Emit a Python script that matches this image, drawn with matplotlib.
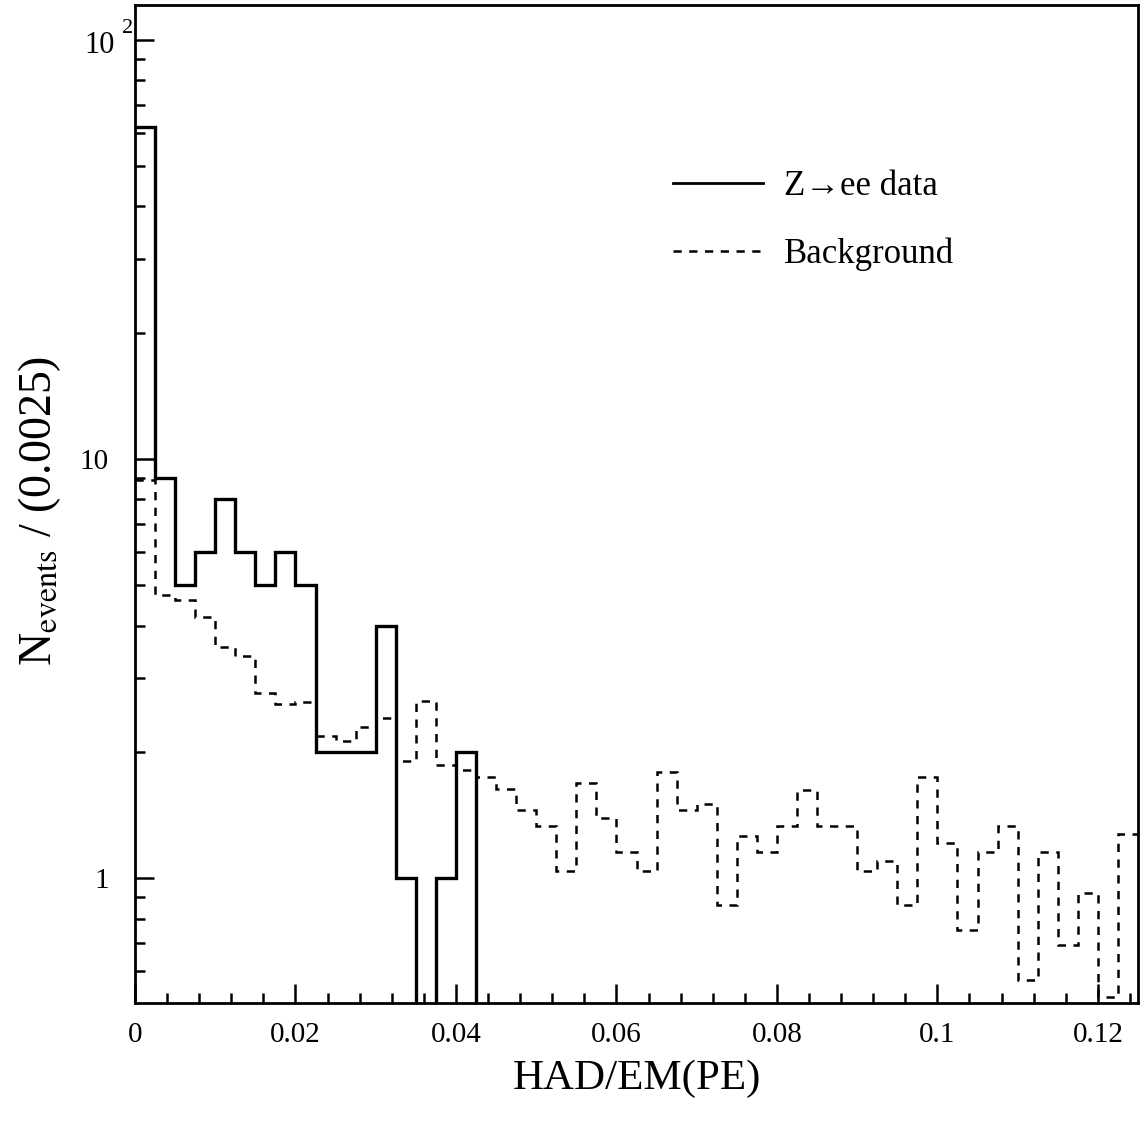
import numpy as np
import matplotlib
matplotlib.use("Agg")
import matplotlib.pyplot as plt
from matplotlib.lines import Line2D
from matplotlib.ticker import FixedLocator, LogLocator, NullFormatter, MultipleLocator, FixedFormatter

plt.rcParams['font.family'] = ['Liberation Serif', 'DejaVu Serif']
plt.rcParams['mathtext.fontset'] = 'stix'

# ---- data ----
bin_width = 0.0025
n_bins = 50
zee_counts = [62, 9, 5, 6, 8, 6, 5, 6, 5, 2, 2, 2, 4, 1, 0, 1, 2] + [0] * 33
background = [8.9, 4.73, 4.6, 4.2, 3.56, 3.39, 2.76, 2.60, 2.63, 2.18,
              2.12, 2.29, 2.41, 1.90, 2.65, 1.86, 1.81, 1.74, 1.63, 1.45,
              1.33, 1.04, 1.68, 1.39, 1.15, 1.04, 1.79, 1.45, 1.50, 0.86,
              1.26, 1.15, 1.33, 1.62, 1.33, 1.33, 1.04, 1.10, 0.86, 1.74,
              1.21, 0.75, 1.15, 1.33, 0.57, 1.15, 0.69, 0.92, 0.52, 1.27]
x_ticks = [0, 0.02, 0.04, 0.06, 0.08, 0.1, 0.12]
x_ticklabels = ["0", "0.02", "0.04", "0.06", "0.08", "0.1", "0.12"]
legend_labels = ["Z\u2192ee data", "Background"]

edges = np.arange(n_bins + 1) * bin_width

fig = plt.figure(figsize=(11.47, 11.28), dpi=100)
ax = fig.add_axes([135 / 1147, 1 - 1003 / 1128, (1138 - 135) / 1147, (1003 - 5) / 1128])

zee_plot = np.where(np.array(zee_counts) > 0, zee_counts, 1e-3)
ax.stairs(zee_plot, edges, baseline=None, color='black', linewidth=2.4)
ax.stairs(background, edges, baseline=None, color='black', linewidth=1.8,
          linestyle=(0, (3.3, 3.0)))

ax.set_yscale('log')
ax.set_xlim(0, 0.125)
ax.set_ylim(0.503, 121)

for s in ax.spines.values():
    s.set_linewidth(2.0)

ax.xaxis.set_major_locator(FixedLocator(x_ticks))
ax.xaxis.set_major_formatter(FixedFormatter(x_ticklabels))
ax.xaxis.set_minor_locator(MultipleLocator(0.004))
ax.yaxis.set_major_locator(FixedLocator([1, 10, 100]))
ax.yaxis.set_major_formatter(FixedFormatter(["1", "10", ""]))
ax.yaxis.set_minor_locator(LogLocator(base=10, subs=np.arange(2, 10)))
ax.yaxis.set_minor_formatter(NullFormatter())

ax.tick_params(which='both', direction='in', top=False, right=False, width=1.8,
               labelsize=21)
ax.tick_params(which='major', length=14)
ax.tick_params(which='minor', length=7)
ax.tick_params(axis='x', which='major', pad=14)
ax.tick_params(axis='y', which='major', pad=19)

# 10^2 label styled like the reference ("10" with a raised, spaced "2")
ax.annotate("10", xy=(0, 100), xycoords=('axes fraction', 'data'),
            xytext=(-20, -6), textcoords='offset pixels', ha='right', va='center',
            fontsize=22)
ax.annotate("2", xy=(0, 100), xycoords=('axes fraction', 'data'),
            xytext=(-2, 11), textcoords='offset pixels', ha='right', va='center',
            fontsize=16)

ax.set_xlabel("HAD/EM(PE)", fontsize=31)
ax.xaxis.set_label_coords(0.5, -0.057)
ax.set_ylabel(r"N$_{\rm events}$ / (0.0025)", fontsize=33)
ax.yaxis.set_label_coords(-0.072, 0.493)

handles = [Line2D([], [], color='black', linewidth=2.0),
           Line2D([], [], color='black', linewidth=1.8, linestyle=(0, (3.3, 3.0)))]
ax.legend(handles, legend_labels, loc='upper left', bbox_to_anchor=(0.536, 0.835),
          frameon=False, fontsize=25, handlelength=2.6, handletextpad=0.6,
          labelspacing=1.0, borderpad=0, borderaxespad=0)

fig.savefig("out.png", dpi=100)
